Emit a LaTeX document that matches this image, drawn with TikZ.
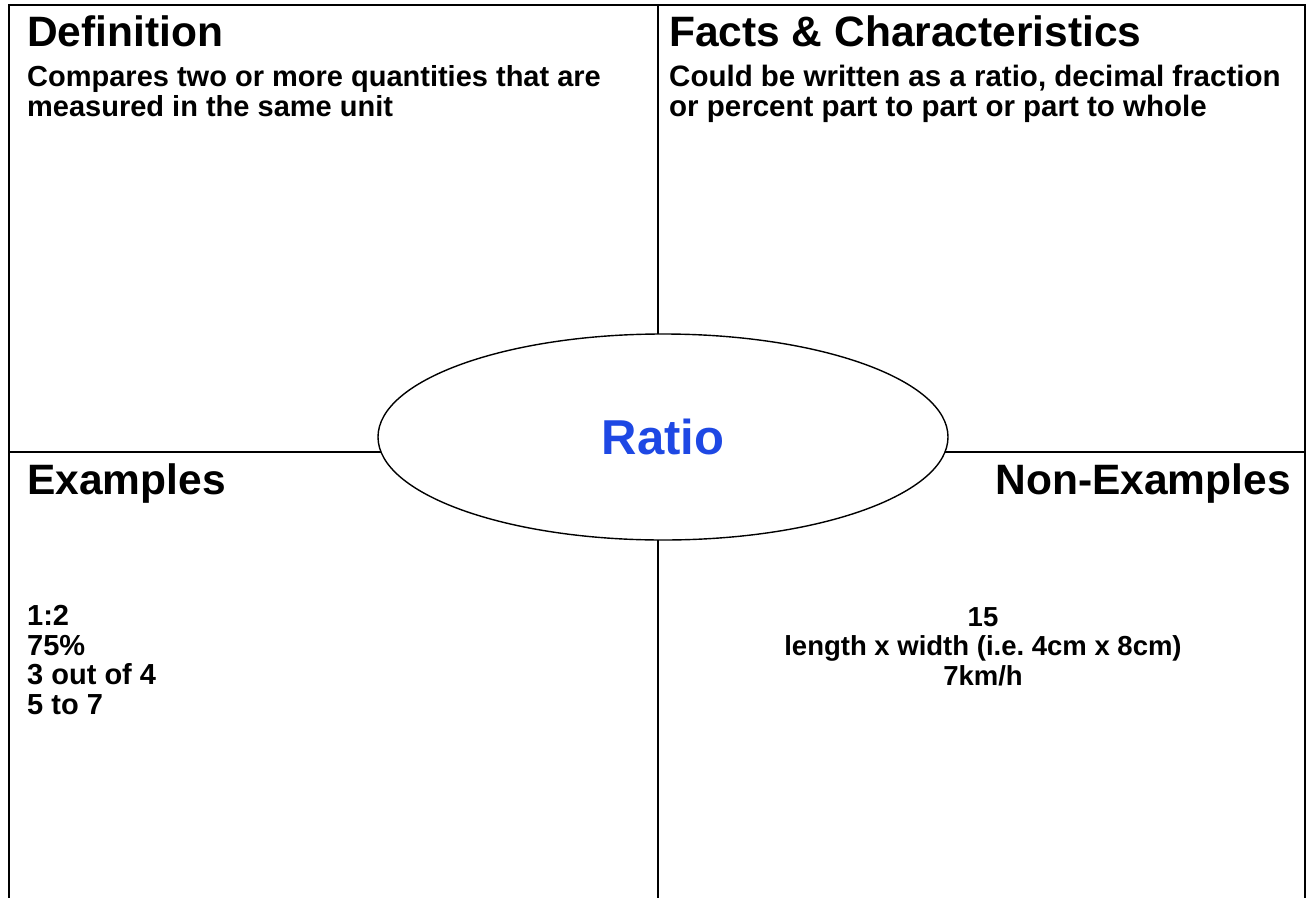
\documentclass[tikz,border=0pt]{standalone}
\usepackage{fontspec}
\setmainfont{Liberation Sans}
\usetikzlibrary{shapes.geometric}
\definecolor{ratioblue}{RGB}{30,72,228}
\frenchspacing

\begin{document}
\begin{tikzpicture}[x=1pt, y=-1pt,
    frame/.style={line width=2.8pt, line cap=rect},
    heading/.style={font=\fontsize{42.5}{46}\selectfont\bfseries, inner sep=0pt},
    body/.style={font=\fontsize{29}{29.5}\selectfont\bfseries, inner sep=0pt, align=left}]
    \useasboundingbox (0,0) rectangle (1309,897);
    % Frame and cross
    \coordinate (tl) at (9,5);
    \coordinate (tr) at (1305,5);
    \coordinate (bl) at (9,897);
    \coordinate (br) at (1305,897);
    \coordinate (top) at (658,5);
    \coordinate (bottom) at (658,897);
    \coordinate (left) at (9,452);
    \coordinate (right) at (1305,452);
    \draw[frame] (bl) -- (tl) -- (tr) -- (br);
    \draw[frame] (top) -- (bottom);
    \draw[frame] (left) -- (right);
    % Centre
    \node[ellipse, draw, fill=white, line width=1.4pt, minimum width=570, minimum height=206] (ratio) at (663,437) {};
    \node[font=\fontsize{49}{52}\selectfont\bfseries, text=ratioblue] (ratiolabel) at (ratio.center) {Ratio};
    % Definition (base = last line)
    \node[heading, anchor=base west] (defhead) at (27,46) {Definition};
    \node[body, anchor=base west] (deftext) at (27,116) {Compares two or more quantities that are\\measured in the same unit};
    % Facts & Characteristics
    \node[heading, anchor=base west] (facthead) at (669,46) {Facts \& Characteristics};
    \node[body, font=\fontsize{29.5}{29.5}\selectfont\bfseries, anchor=base west] (facttext) at (669,116) {Could be written as a ratio, decimal fraction\\or percent part to part or part to whole};
    % Examples
    \node[heading, anchor=base west] (exhead) at (27,494) {Examples};
    \node[body, anchor=base west] (extext) at (27,714) {1:2\\75\%\\3 out of 4\\5 to 7};
    % Non-Examples
    \node[heading, anchor=base east] (nonhead) at (1291,494) {Non-Examples};
    \node[body, font=\fontsize{27.5}{29.5}\selectfont\bfseries, align=center, anchor=base] (nontext) at (983,685) {15\\length x width (i.e. 4cm x 8cm)\\7km/h};
\end{tikzpicture}
\end{document}
